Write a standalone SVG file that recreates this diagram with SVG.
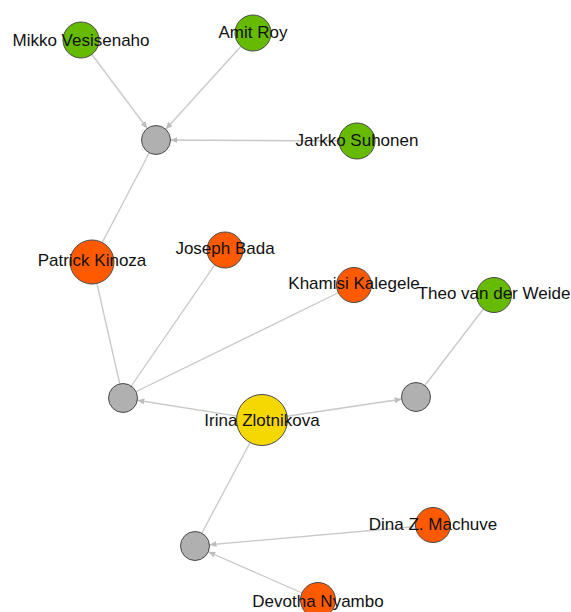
<svg xmlns="http://www.w3.org/2000/svg" width="571" height="612" viewBox="0 0 571 612">
<style>
.e{stroke:#c8c8c8;stroke-width:1.3;fill:none}
.a{marker-end:url(#arr)}
.n{stroke:#4a4a4a;stroke-width:1}
.g{fill:#66bb00}
.o{fill:#ff5a00}
.y{fill:#f5d800}
.h{fill:#b0b0b0}
text{font-family:"Liberation Sans",Arial,sans-serif;font-size:17px;fill:#111;text-anchor:middle}
</style>
<defs>
<marker id="arr" viewBox="0 0 7 6" markerWidth="7" markerHeight="6" refX="21.5" refY="3" orient="auto" markerUnits="userSpaceOnUse">
<path d="M0,0 L7,3 L0,6 z" fill="#bdbdbd"/>
</marker>
</defs>
<rect width="571" height="612" fill="#fff"/>
<g id="edges">
<line class="e a" x1="81" y1="40" x2="156" y2="140"/>
<line class="e a" x1="253" y1="33" x2="156" y2="140"/>
<line class="e a" x1="357" y1="141" x2="156" y2="140"/>
<line class="e" x1="156" y1="140" x2="92" y2="262"/>
<line class="e" x1="92" y1="262" x2="123" y2="398"/>
<line class="e" x1="225" y1="250" x2="123" y2="398"/>
<line class="e" x1="354" y1="285" x2="123" y2="398"/>
<line class="e a" x1="262" y1="420" x2="123" y2="398"/>
<line class="e a" x1="262" y1="420" x2="416" y2="397"/>
<line class="e" x1="416" y1="397" x2="494" y2="295"/>
<line class="e" x1="262" y1="420" x2="195" y2="546"/>
<line class="e a" x1="433" y1="525" x2="195" y2="546"/>
<line class="e a" x1="318" y1="600" x2="195" y2="546"/>
</g>
<g id="hub1"><circle class="n h" cx="156" cy="140" r="14.5"/></g>
<g id="hub2"><circle class="n h" cx="123" cy="398" r="14.5"/></g>
<g id="hub3"><circle class="n h" cx="416" cy="397" r="14.5"/></g>
<g id="hub4"><circle class="n h" cx="195" cy="546" r="14.5"/></g>
<g id="mikko"><circle class="n g" cx="81" cy="40" r="18"/><text x="81" y="46">Mikko Vesisenaho</text></g>
<g id="amit"><circle class="n g" cx="253" cy="33" r="18"/><text x="253" y="38">Amit Roy</text></g>
<g id="jarkko"><circle class="n g" cx="357" cy="141" r="18"/><text x="357" y="146">Jarkko Suhonen</text></g>
<g id="patrick"><circle class="n o" cx="92" cy="262" r="22"/><text x="92" y="266">Patrick Kinoza</text></g>
<g id="joseph"><circle class="n o" cx="225" cy="250" r="18"/><text x="225" y="254">Joseph Bada</text></g>
<g id="khamisi"><circle class="n o" cx="354" cy="285" r="17.5"/><text x="354" y="289">Khamisi Kalegele</text></g>
<g id="theo"><circle class="n g" cx="494" cy="295" r="17.5"/><text x="494" y="299">Theo van der Weide</text></g>
<g id="irina"><circle class="n y" cx="262" cy="420" r="25.5"/><text x="262" y="426">Irina Zlotnikova</text></g>
<g id="dina"><circle class="n o" cx="433" cy="525" r="17.5"/><text x="433" y="530">Dina Z. Machuve</text></g>
<g id="devotha"><circle class="n o" cx="318" cy="600" r="17.5"/><text x="318" y="607">Devotha Nyambo</text></g>
</svg>
